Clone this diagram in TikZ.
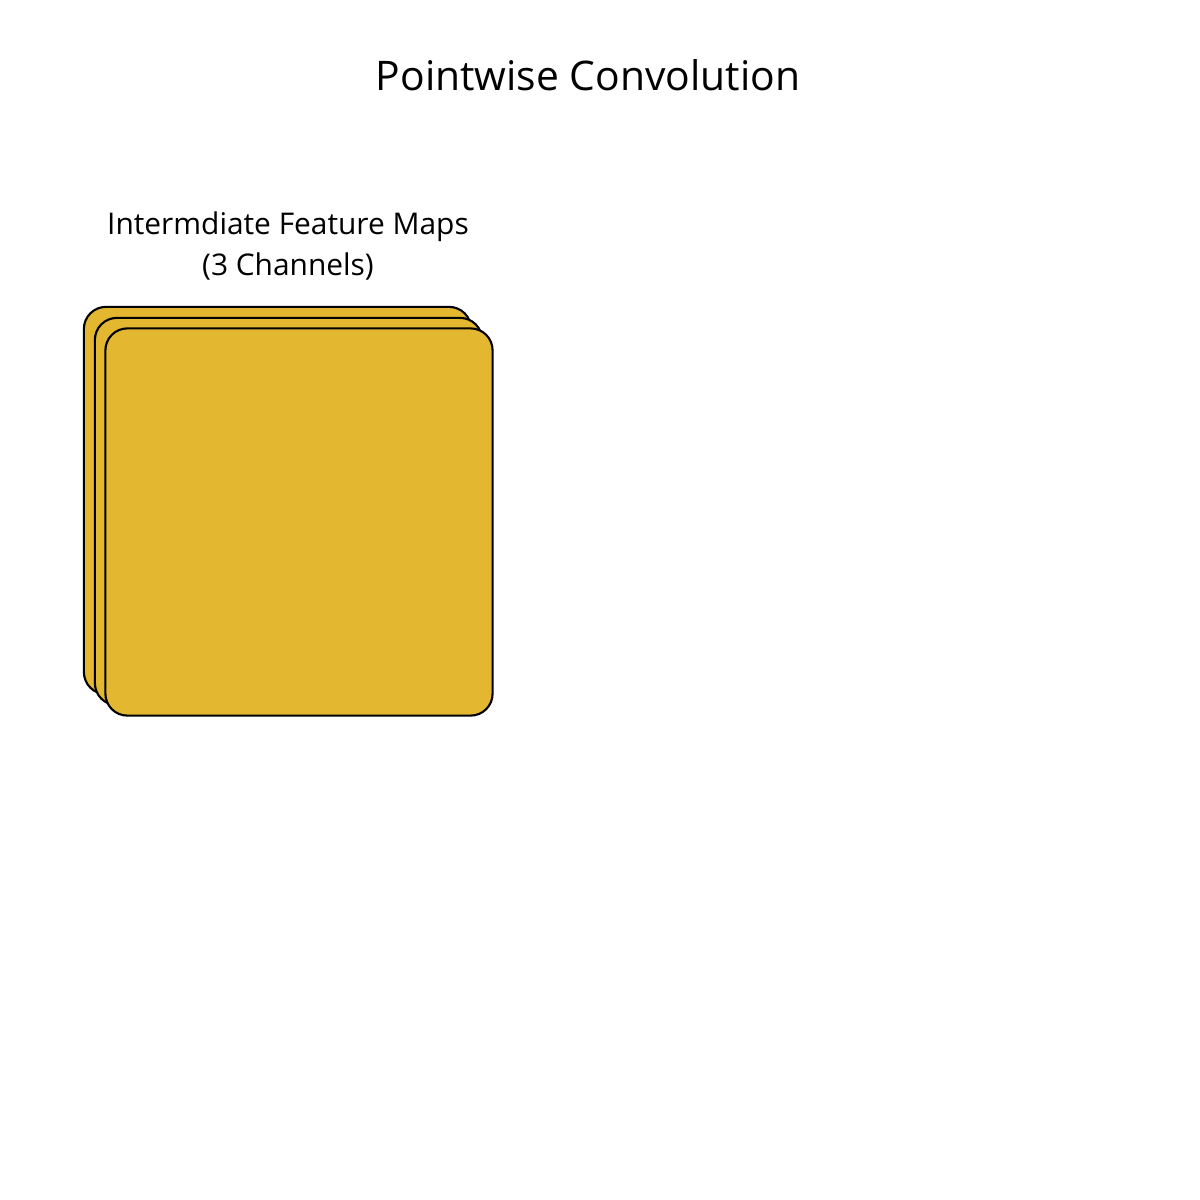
\documentclass[tikz,border=0pt]{standalone}
\usepackage{fontspec}
\setmainfont{Open Sans}
\definecolor{mapyellow}{HTML}{E3B730}
\tikzset{
  fmap/.style={draw=black, fill=mapyellow, line width=0.6pt, rounded corners=2.2mm,
    minimum width=3.87cm, minimum height=3.87cm, inner sep=0pt},
  caption/.style={align=center, font=\fontsize{8.5}{11.6}\selectfont}
}
\begin{document}
\begin{tikzpicture}[x=0.01cm, y=-0.01cm]
			%%%%% START %%%%%
			\useasboundingbox[fill=white] (0, 0) rectangle (1200, 1200);
			
			\node[font=\fontsize{11.6}{14}\selectfont] (title) at (588, 75) {Pointwise Convolution};
			
			\node[caption] (maplabel) at (288, 246) {Intermdiate Feature Maps\\(3 Channels)};
			
			\node[fmap] (mapA) at (277.5, 500.5) {};
			\node[fmap] (mapB) at (288.5, 511.5) {};
			\node[fmap] (mapC) at (299, 522) {};
			
			%%%%% END %%%%%
		\end{tikzpicture}
\end{document}
